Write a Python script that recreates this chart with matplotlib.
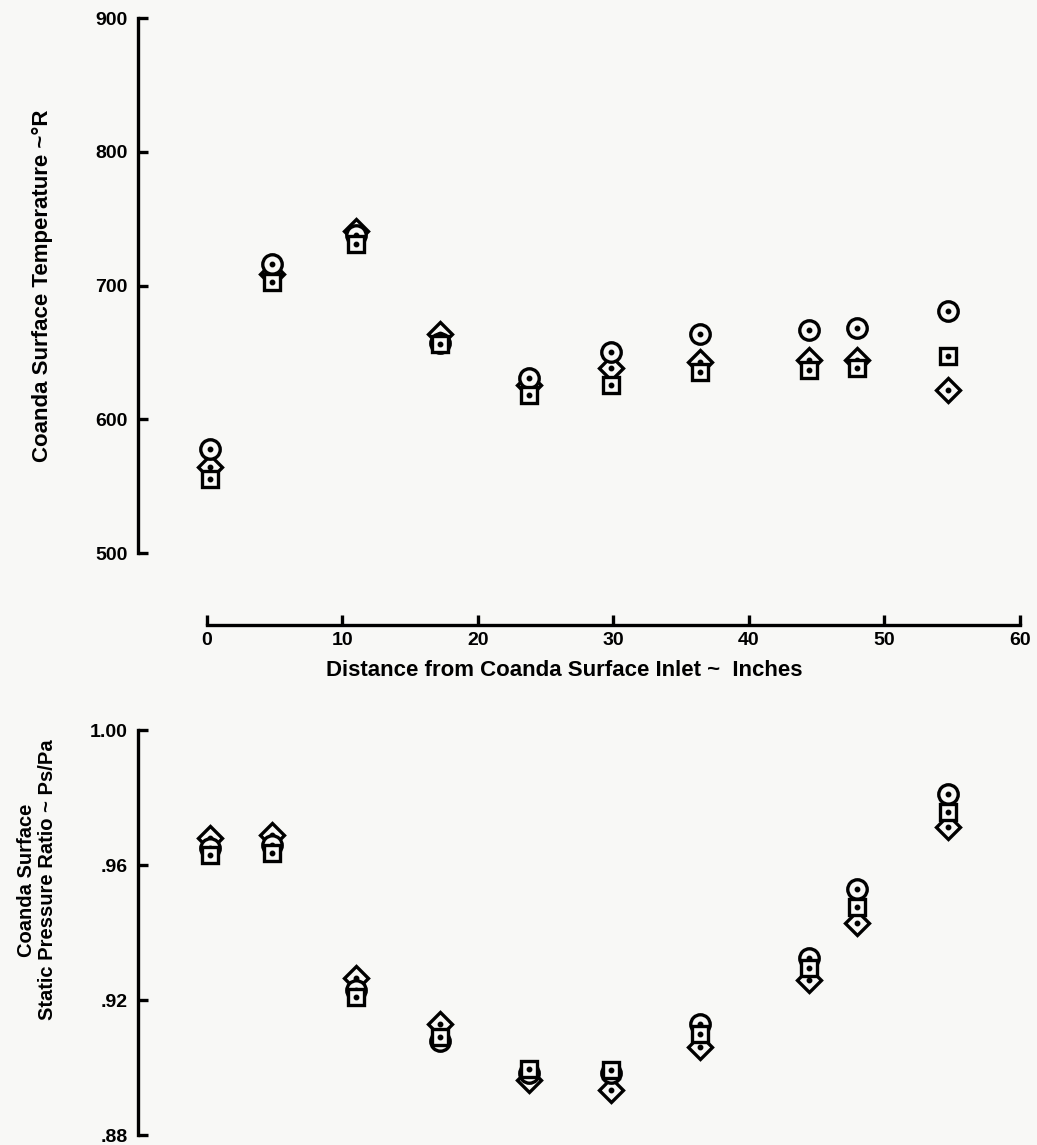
import matplotlib.pyplot as plt

# distance from Coanda surface inlet (inches), shared by both panels
distance = [0.2, 4.8, 11.0, 17.2, 23.8, 29.8, 36.4, 44.4, 48.0, 54.7]

# surface temperature ~ deg R
temp_circle = [578, 716, 738, 657, 631, 650, 664, 667, 668, 681]
temp_square = [555, 703, 731, 656, 618, 626, 635, 637, 638, 647]
temp_diamond = [564, 709, 741, 664, 626, 638, 643, 644, 644, 622]

# static pressure ratio Ps/Pa
ratio_circle = [0.965, 0.966, 0.923, 0.908, 0.8985, 0.8985, 0.913, 0.9325, 0.953, 0.981]
ratio_square = [0.963, 0.9636, 0.921, 0.909, 0.8996, 0.8993, 0.910, 0.9295, 0.9476, 0.9757]
ratio_diamond = [0.968, 0.969, 0.9265, 0.9129, 0.8963, 0.8933, 0.906, 0.926, 0.9428, 0.9713]

temp_ticks = [500, 600, 700, 800, 900]
ratio_ticks = [0.88, 0.92, 0.96, 1.00]
ratio_labels = ['.88', '.92', '.96', '1.00']
dist_ticks = [0, 10, 20, 30, 40, 50, 60]

plt.rcParams['font.family'] = ['Liberation Sans', 'DejaVu Sans']
plt.rcParams['font.weight'] = 'bold'

bg = '#f8f8f6'
fig = plt.figure(figsize=(10.37, 11.45), dpi=100, facecolor=bg)
ax1 = fig.add_axes([0.1996, 0.517, 0.784, 0.4672])
ax2 = fig.add_axes([0.1996, 0.00873, 0.784, 0.3537])


def draw_points(ax, y_circle, y_square, y_diamond):
    # diamond first, circle next, square on top (like the original overlap)
    styles = [(y_diamond, 'D', 12.0), (y_circle, 'o', 14.0), (y_square, 's', 12.0)]
    for z, (vals, m, ms) in enumerate(styles):
        ax.plot(distance, vals, linestyle='none', marker=m, markersize=ms,
                markerfacecolor=bg, markeredgecolor='black', markeredgewidth=2.4,
                clip_on=False, zorder=3 + 2 * z)
        ax.plot(distance, vals, linestyle='none', marker='o', markersize=3.2,
                color='black', clip_on=False, zorder=4 + 2 * z)


for ax in (ax1, ax2):
    ax.set_facecolor(bg)
    ax.set_xlim(0, 60)
    for s in ('top', 'right'):
        ax.spines[s].set_visible(False)
    ax.spines['left'].set_position(('outward', 50))
    ax.spines['left'].set_linewidth(2.4)
    ax.tick_params(axis='y', direction='in', length=7, width=2.4,
                   labelsize=14, pad=7)

draw_points(ax1, temp_circle, temp_square, temp_diamond)
ax1.set_ylim(500, 900)
ax1.set_yticks(temp_ticks)
ax1.spines['bottom'].set_position(('outward', 52))
ax1.spines['bottom'].set_linewidth(2.4)
ax1.set_xticks(dist_ticks)
ax1.tick_params(axis='x', direction='in', length=7, width=2.4,
                labelsize=14, pad=5)
ax1.set_xlabel('Distance from Coanda Surface Inlet ~  Inches', fontsize=16,
               fontweight='bold', labelpad=6)
ax1.xaxis.set_label_coords(0.44, -0.2)
ax1.set_ylabel('Coanda Surface Temperature ~°R', fontsize=16, fontweight='bold')
ax1.yaxis.set_label_coords(-0.19, 0.5)

draw_points(ax2, ratio_circle, ratio_square, ratio_diamond)
ax2.set_ylim(0.88, 1.00)
ax2.set_yticks(ratio_ticks)
ax2.set_yticklabels(ratio_labels)
ax2.spines['bottom'].set_visible(False)
ax2.set_xticks([])
ax2.set_ylabel('Coanda Surface\nStatic Pressure Ratio ~ Ps/Pa', fontsize=14.5,
               fontweight='bold', linespacing=1.1)
ax2.yaxis.set_label_coords(-0.185, 0.63)

fig.savefig('out.png', dpi=100, facecolor=bg)
